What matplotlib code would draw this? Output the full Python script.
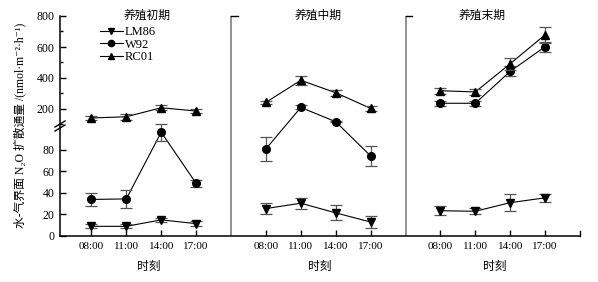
import matplotlib
matplotlib.use("Agg")
import matplotlib.pyplot as plt
from matplotlib.lines import Line2D
from matplotlib.ticker import MultipleLocator
import matplotlib.transforms as mtransforms

plt.rcParams['font.family'] = ['Liberation Serif', 'Noto Sans CJK SC', 'DejaVu Sans']
plt.rcParams['font.size'] = 8

# data
times = ['08:00', '11:00', '14:00', '17:00']
periods = ['养殖初期', '养殖中期', '养殖末期']

lm86 = [[9, 9, 15, 11.5], [25.5, 30.5, 21.5, 13], [23.5, 23, 31, 35.5]]
lm86_err = [[2, 2, 2, 2], [5, 5, 7, 6], [4, 3, 8, 4]]
w92 = [[34, 34.5, 96.5, 49], [81, 210, 118, 74.5], [237, 237, 443, 602]]
w92_err = [[6, 8, 8, 3.5], [11, 13, 4, 9], [17, 15, 33, 33]]
rc01 = [[142, 150, 208, 187], [243, 385, 305, 204], [318, 310, 492, 679]]
rc01_err = [[13, 18, 16, 14], [10, 30, 18, 18], [20, 18, 40, 50]]

series = [('LM86', lm86, lm86_err, 'v', 6),
          ('W92', w92, w92_err, 'o', 5.5),
          ('RC01', rc01, rc01_err, '^', 6)]

BREAK = 100  # values above go to the upper part of the broken axis

W, H = 598, 282
fig = plt.figure(figsize=(W / 100, H / 100), dpi=100)

# broken y axis: upper part 100-800, lower part 0-~104
ax_top = fig.add_axes([60 / W, 1 - 124.5 / H, 520 / W, 108.5 / H])
ax_low = fig.add_axes([60 / W, 1 - 236 / H, 520 / W, 111.5 / H])
for ax in (ax_top, ax_low):
    ax.set_facecolor('none')
    ax.set_xlim(0.1, 15)
    for s in ('top', 'right'):
        ax.spines[s].set_visible(False)
    ax.spines['left'].set_linewidth(1.1)
    ax.tick_params(direction='in', length=4, width=1, labelsize=8.5, pad=4)

ax_top.set_ylim(BREAK, 800)
ax_top.set_yticks([200, 400, 600, 800])
ax_top.yaxis.set_minor_locator(MultipleLocator(100))
ax_top.tick_params(which='minor', direction='in', length=2.5, width=1)
ax_top.spines['bottom'].set_visible(False)
ax_top.set_xticks([])

ax_low.set_ylim(0, 103.7)
ax_low.set_yticks([0, 20, 40, 60, 80])
ax_low.spines['bottom'].set_linewidth(1.1)

# x positions: 4 times per period, one empty slot between periods
xpos = []
for p in range(len(periods)):
    xpos.append([p * 5 + i + 1 for i in range(len(times))])

ax_low.set_xticks([x for xs in xpos for x in xs])
ax_low.set_xticklabels(times * len(periods), fontsize=8)


def home(y):
    return ax_top if y >= BREAK else ax_low


def to_ax(ax_dst, x, y):
    # position of a point (drawn in its own part) expressed in ax_dst data units
    disp = home(y).transData.transform((x, y))
    return ax_dst.transData.inverted().transform(disp)


for name, vals, errs, mk, ms in series:
    for p in range(len(periods)):
        xs, ys, es = xpos[p], vals[p], errs[p]
        # straight connecting line on screen, clipped by each part
        for ax in (ax_top, ax_low):
            pts = [to_ax(ax, x, y) for x, y in zip(xs, ys)]
            ax.plot([q[0] for q in pts], [q[1] for q in pts], color='k', lw=0.8)
        # markers + error bars only in the part the point belongs to
        for ax, keep in ((ax_top, lambda v: v >= BREAK), (ax_low, lambda v: v < BREAK)):
            px = [x for x, y in zip(xs, ys) if keep(y)]
            py = [y for y in ys if keep(y)]
            pe = [e for y, e in zip(ys, es) if keep(y)]
            if not px:
                continue
            ax.errorbar(px, py, yerr=pe, fmt='none', ecolor='#555555',
                        elinewidth=0.9, capsize=4, capthick=0.9, clip_on=False)
            ax.plot(px, py, ls='none', marker=mk, ms=ms, color='k', clip_on=False)

# period dividers
for xd in (5, 10):
    for ax in (ax_top, ax_low):
        ax.axvline(xd, color='#8a8a8a', lw=1.3)
    ax_top.plot([xd, xd + 0.2], [800, 800], color='k', lw=1, clip_on=False)
ax_low.axvline(15, ymin=0, ymax=0.045, color='k', lw=1, clip_on=False)

# panel titles and x labels
title_x = [2.6, 7.5, 12.2]
xlab_x = [2.65, 7.55, 12.55]
tr = mtransforms.blended_transform_factory(ax_low.transData, ax_low.transAxes)
for p, name in enumerate(periods):
    ax_top.text(title_x[p], 800, name, ha='center', va='center', fontsize=8.5)
    ax_low.text(xlab_x[p], -0.28, '时刻', ha='center', va='center', fontsize=8.5, transform=tr)

# legend
handles = [Line2D([], [], color='k', marker=mk, ms=4.5, lw=0.8) for _, _, _, mk, _ in series]
labels = [name for name, _, _, _, _ in series]
fig.legend(handles, labels, loc='upper left', bbox_to_anchor=(100 / W, 1 - 26 / H),
           frameon=False, fontsize=9, handlelength=1.8, handletextpad=0.2,
           labelspacing=0.05, borderpad=0, borderaxespad=0)

# break marks on the left spine
for dy in (0, 4):
    fig.add_artist(Line2D([55 / W, 65 / W], [1 - (127 + dy) / H, 1 - (121 + dy) / H],
                          color='k', lw=1, transform=fig.transFigure))

fig.text(20 / W, 1 - 125 / H, '水-气界面 N₂O 扩散通量 /(nmol·m⁻²·h⁻¹)',
         rotation=90, ha='center', va='center', fontsize=8.5)

fig.savefig('out.png', dpi=100)
